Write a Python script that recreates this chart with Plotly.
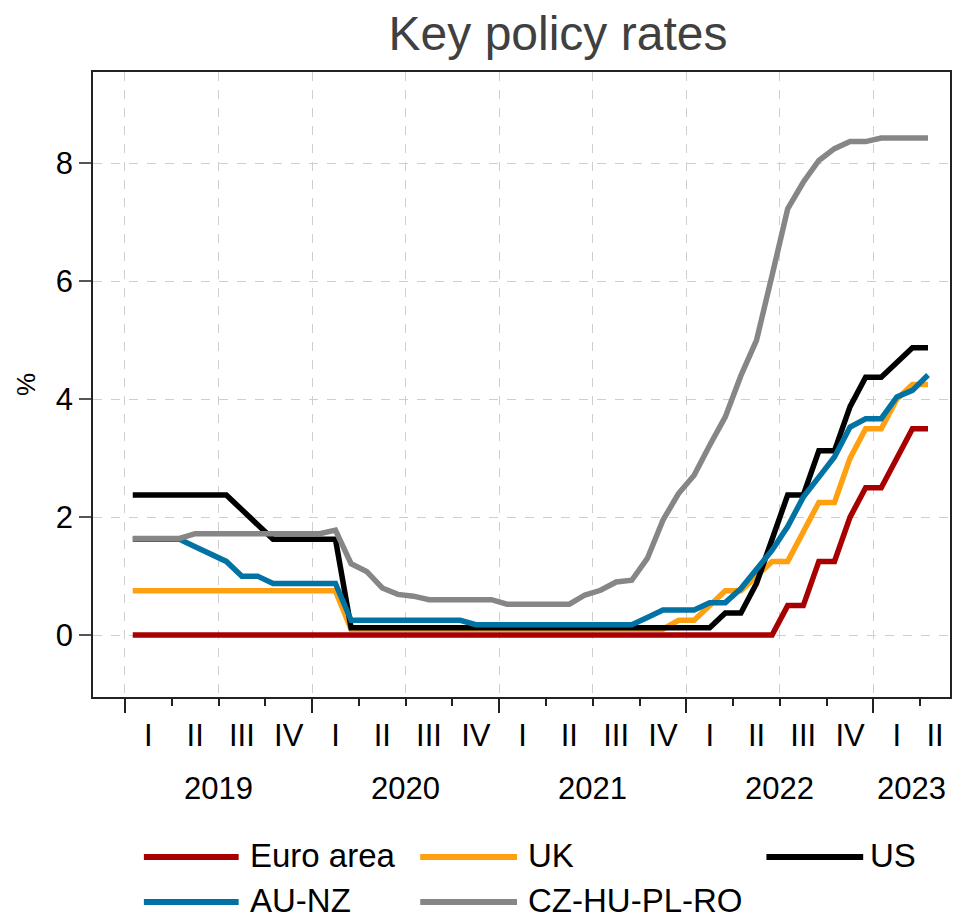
import plotly.graph_objects as go
import pandas as pd

# ---------------- data ----------------
months = [str(p) for p in pd.period_range("2019-01", "2023-04", freq="M")]

euro_area = [0, 0, 0, 0, 0, 0, 0, 0, 0, 0, 0, 0,
             0, 0, 0, 0, 0, 0, 0, 0, 0, 0, 0, 0,
             0, 0, 0, 0, 0, 0, 0, 0, 0, 0, 0, 0,
             0, 0, 0, 0, 0, 0, 0.5, 0.5, 1.25, 1.25, 2.0, 2.5,
             2.5, 3.0, 3.5, 3.5]

uk = [0.75, 0.75, 0.75, 0.75, 0.75, 0.75, 0.75, 0.75, 0.75, 0.75, 0.75, 0.75,
      0.75, 0.75, 0.1, 0.1, 0.1, 0.1, 0.1, 0.1, 0.1, 0.1, 0.1, 0.1,
      0.1, 0.1, 0.1, 0.1, 0.1, 0.1, 0.1, 0.1, 0.1, 0.1, 0.1, 0.25,
      0.25, 0.5, 0.75, 0.75, 1.0, 1.25, 1.25, 1.75, 2.25, 2.25, 3.0, 3.5,
      3.5, 4.0, 4.25, 4.25]

us = [2.375, 2.375, 2.375, 2.375, 2.375, 2.375, 2.375, 2.125, 1.875, 1.625, 1.625, 1.625,
      1.625, 1.625, 0.125, 0.125, 0.125, 0.125, 0.125, 0.125, 0.125, 0.125, 0.125, 0.125,
      0.125, 0.125, 0.125, 0.125, 0.125, 0.125, 0.125, 0.125, 0.125, 0.125, 0.125, 0.125,
      0.125, 0.125, 0.375, 0.375, 0.875, 1.625, 2.375, 2.375, 3.125, 3.125, 3.875, 4.375,
      4.375, 4.625, 4.875, 4.875]

au_nz = [1.625, 1.625, 1.625, 1.625, 1.5, 1.375, 1.25, 1.0, 1.0, 0.875, 0.875, 0.875,
         0.875, 0.875, 0.25, 0.25, 0.25, 0.25, 0.25, 0.25, 0.25, 0.25, 0.175, 0.175,
         0.175, 0.175, 0.175, 0.175, 0.175, 0.175, 0.175, 0.175, 0.175, 0.3, 0.425, 0.425,
         0.425, 0.55, 0.55, 0.79, 1.13, 1.44, 1.84, 2.34, 2.68, 3.02, 3.53, 3.67,
         3.67, 4.04, 4.15, 4.41]

cz_hu_pl_ro = [1.64, 1.64, 1.64, 1.64, 1.72, 1.72, 1.72, 1.72, 1.72, 1.72, 1.72, 1.72,
               1.72, 1.78, 1.21, 1.08, 0.80, 0.69, 0.66, 0.60, 0.60, 0.60, 0.60, 0.60,
               0.525, 0.525, 0.525, 0.525, 0.525, 0.68, 0.76, 0.90, 0.93, 1.30, 1.95, 2.40,
               2.71, 3.22, 3.70, 4.40, 5.0, 6.1, 7.23, 7.68, 8.05, 8.25, 8.37, 8.37,
               8.43, 8.43, 8.43, 8.43]

series_names = ["Euro area", "UK", "US", "AU-NZ", "CZ-HU-PL-RO"]
series_values = [euro_area, uk, us, au_nz, cz_hu_pl_ro]

quarter_names = ["I", "II", "III", "IV"]
years = ["2019", "2020", "2021", "2022", "2023"]
y_tick_values = [0, 2, 4, 6, 8]

# ---------------- styling ----------------
colors = ["#A80000", "#FFA010", "#000000", "#0072A3", "#868686"]
FONT = "Liberation Sans, Arial, Helvetica, sans-serif"
OFF = 8                                   # page body margin in the browser
W, H = 963 - OFF, 919 - OFF
PL, PR, PT, PB = 93 - OFF, 952 - OFF, 72 - OFF, 697 - OFF   # plot area (figure px)
X_MIN, X_MAX = -2.55, 52.41              # month-index range of the x axis
Y_MIN, Y_MAX = -1.05, 9.55
GRID = "#cfcfcf"
AXC = "#222222"

x = list(range(len(months)))

fig = go.Figure()
for name, vals, col in zip(series_names, series_values, colors):
    fig.add_trace(go.Scatter(
        x=x, y=vals, mode="lines", name=name,
        line=dict(color=col, width=5.5),
        customdata=months,
        hovertemplate="%{customdata}: %{y:.2f}%<extra>" + name + "</extra>",
    ))

# quarter label positions (centre of the visible part of each quarter)
q_vals, q_text = [], []
year_pos = []
for i, yr in enumerate(years):
    ys, ye = 12 * i - 0.5, 12 * i + 11.5
    if ys >= X_MAX:
        continue
    year_pos.append(((max(ys, X_MIN) + min(ye, X_MAX)) / 2, yr))
    for q, qn in enumerate(quarter_names):
        s = ys + 3 * q
        e = s + 3
        if s >= X_MAX:
            continue
        q_vals.append((max(s, X_MIN) + min(e, X_MAX)) / 2)
        q_text.append(qn)

fig.update_layout(
    width=W, height=H,
    margin=dict(l=PL, r=W - PR, t=PT, b=H - PB),
    paper_bgcolor="white", plot_bgcolor="white",
    font=dict(family=FONT, color="black"),
    showlegend=False,
    title=dict(text="Key policy rates", xref="container", x=(558 - OFF) / W, xanchor="center",
               yref="container", y=1 - (33 - OFF) / H, yanchor="middle",
               font=dict(size=48, color="#404040", family=FONT)),
    xaxis=dict(range=[X_MIN, X_MAX], tickmode="array", tickvals=q_vals, ticktext=q_text,
               ticks="", showgrid=False, zeroline=False,
               showline=True, linecolor=AXC, linewidth=1.5, mirror=True,
               tickfont=dict(size=31, color="black"), ticklabelstandoff=10),
    xaxis2=dict(overlaying="x", anchor="y", range=[X_MIN, X_MAX],
                tickmode="linear", tick0=-0.5, dtick=6,
                ticks="outside", ticklen=8, tickwidth=1.5, tickcolor=AXC,
                showticklabels=False, showline=False, zeroline=False,
                showgrid=True, gridcolor=GRID, griddash="dash", gridwidth=1,
                minor=dict(tick0=-0.5, dtick=3, ticks="outside", ticklen=8,
                           tickwidth=1.5, tickcolor=AXC, showgrid=False)),
    xaxis3=dict(overlaying="x", anchor="y", range=[X_MIN, X_MAX],
                tickmode="linear", tick0=-0.5, dtick=12,
                ticks="outside", ticklen=15, tickwidth=1.5, tickcolor=AXC,
                showticklabels=False, showline=False, zeroline=False, showgrid=False),
    yaxis=dict(range=[Y_MIN, Y_MAX], tickmode="array", tickvals=y_tick_values,
               ticks="outside", ticklen=12, tickwidth=1.5, tickcolor="#555555",
               showgrid=True, gridcolor=GRID, griddash="dash", gridwidth=1,
               zeroline=False, showline=True, linecolor=AXC, linewidth=1.5, mirror=True,
               tickfont=dict(size=31, color="black"),
               title=dict(text="%", font=dict(size=26, color="black"), standoff=13)),
)

# invisible helper traces so the overlay axes are rendered
fig.add_trace(go.Scatter(x=[], y=[], xaxis="x2", yaxis="y", showlegend=False, hoverinfo="skip"))
fig.add_trace(go.Scatter(x=[], y=[], xaxis="x3", yaxis="y", showlegend=False, hoverinfo="skip"))


def px_x(px):
    return (px - OFF - PL) / (PR - PL)


def px_y(py):
    return (PB - (py - OFF)) / (PB - PT)


annotations = []
for pos, yr in year_pos:
    annotations.append(dict(x=pos, xref="x", y=px_y(788), yref="paper", text=yr,
                            showarrow=False, xanchor="center", yanchor="middle",
                            font=dict(size=31, color="black", family=FONT)))

# custom legend (long line keys), 3 columns x 2 rows; positions in page pixels
legend_cols = [(144, 239, 248), (421, 518, 527), (768, 865, 870)]
legend_rows = [855, 900]
shapes = []
for idx, (name, col) in enumerate(zip(series_names, colors)):
    r, c = divmod(idx, 3)
    x0, x1, xt = legend_cols[c]
    yy = legend_rows[r]
    shapes.append(dict(type="line", xref="paper", yref="paper",
                       x0=px_x(x0), x1=px_x(x1), y0=px_y(yy + 2), y1=px_y(yy + 2),
                       line=dict(color=col, width=6)))
    annotations.append(dict(x=px_x(xt), xref="paper", y=px_y(yy), yref="paper", text=name,
                            showarrow=False, xanchor="left", yanchor="middle",
                            font=dict(size=33, color="black", family=FONT)))

fig.update_layout(annotations=annotations, shapes=shapes)

fig.write_html("out.html")
